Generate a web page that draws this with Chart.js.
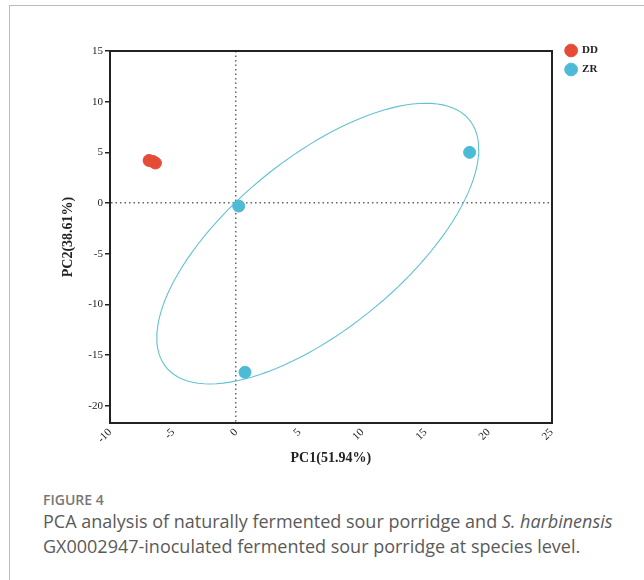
<!DOCTYPE html>
<html>
<head>
<meta charset="utf-8">
<script src="https://cdn.jsdelivr.net/npm/chart.js@4/dist/chart.umd.min.js"></script>
<style>
	body { margin: 0; background: #fff; width: 644px; height: 580px; overflow: hidden; position: relative; }
	#frame { position: absolute; left: 9px; top: 5px; width: 700px; height: 600px; border-left: 1px solid #bbb; border-top: 1px solid #bbb; }
	#chart { position: absolute; left: 0; top: 0; }
	.fig { position: absolute; left: 43px; top: 490px; font-family: "Open Sans", sans-serif; font-size: 14px; line-height: 19px; font-weight: 600; color: #777; }
	.cap { position: absolute; left: 43px; top: 509px; width: 600px; font-family: "Open Sans", sans-serif; font-size: 18px; line-height: 25px; color: #5a5a5a; }
</style>
</head>
<body>
<div id="frame"></div>
<canvas id="chart" width="644" height="480"></canvas>
<div class="fig">FIGURE 4</div>
<div class="cap">PCA analysis of naturally fermented sour porridge and <i>S. harbinensis</i><br>GX0002947-inoculated fermented sour porridge at species level.</div>
<script>
const ddX = [-6.9, -6.6, -6.4];
const ddY = [4.2, 4.1, 3.95];
const zrX = [0.2, 18.5, 0.7];
const zrY = [-0.3, 5.0, -16.7];
const xTicks = [-10, -5, 0, 5, 10, 15, 20, 25];
const yTicks = [-20, -15, -10, -5, 0, 5, 10, 15];
const ELLIPSE_SCALE = 1.224;

const RED = "#E64B35";
const BLUE = "#4DBBD5";

function toPoints(xs, ys) {
	return xs.map((x, i) => ({ x: x, y: ys[i] }));
}

// covariance ellipse around the ZR group
function groupEllipse(xs, ys, k) {
	const n = xs.length;
	const mx = xs.reduce((a, b) => a + b, 0) / n;
	const my = ys.reduce((a, b) => a + b, 0) / n;
	let sxx = 0, syy = 0, sxy = 0;
	for (let i = 0; i < n; i++) {
		sxx += (xs[i] - mx) ** 2;
		syy += (ys[i] - my) ** 2;
		sxy += (xs[i] - mx) * (ys[i] - my);
	}
	sxx /= n - 1; syy /= n - 1; sxy /= n - 1;
	const a = Math.sqrt(sxx);
	const b = sxy / a;
	const c = Math.sqrt(syy - b * b);
	const pts = [];
	for (let i = 0; i <= 120; i++) {
		const t = (i / 120) * Math.PI * 2;
		const u = Math.cos(t), v = Math.sin(t);
		pts.push({ x: mx + k * a * u, y: my + k * (b * u + c * v) });
	}
	return pts;
}

const zeroGrid = (ctx) => (ctx.tick && ctx.tick.value === 0 ? "#666" : "rgba(0,0,0,0)");

const ctx = document.getElementById("chart").getContext("2d");
Chart.defaults.font.family = "'Liberation Serif', 'Times New Roman', serif";
Chart.defaults.color = "#222";

const myChart = new Chart(ctx, {
	type: "scatter",
	data: {
		datasets: [
			{
				label: "DD",
				data: toPoints(ddX, ddY),
				backgroundColor: RED,
				borderColor: RED,
				pointRadius: 6,
				pointHoverRadius: 6,
				order: 1,
			},
			{
				label: "ZR",
				data: toPoints(zrX, zrY),
				backgroundColor: BLUE,
				borderColor: BLUE,
				pointRadius: 6,
				pointHoverRadius: 6,
				order: 1,
			},
			{
				label: "ellipse",
				data: groupEllipse(zrX, zrY, ELLIPSE_SCALE),
				showLine: true,
				borderColor: "#62C2D2",
				borderWidth: 1.1,
				pointRadius: 0,
				fill: false,
				tension: 0,
				order: 2,
			},
		],
	},
	options: {
		responsive: false,
		animation: false,
		layout: {
			padding: { top: 37, left: 52, right: 36, bottom: 0 },
		},
		scales: {
			x: {
				type: "linear",
				position: "bottom",
				min: -10,
				max: 25,
				afterBuildTicks: (s) => { s.ticks = xTicks.map((v) => ({ value: v })); },
				afterFit: (s) => { s.height = 57; },
				ticks: { minRotation: 45, maxRotation: 45, padding: 3, font: { size: 11 } },
				grid: { color: zeroGrid, lineWidth: 1.5, drawTicks: false },
				border: { display: true, width: 2, color: "#222", dash: [1.5, 3] },
				title: {
					display: true,
					text: "PC1(51.94%)",
					font: { size: 14, weight: "bold" },
					padding: { top: 0, bottom: 13 },
				},
			},
			y: {
				type: "linear",
				position: "left",
				min: -21.7,
				max: 15,
				afterBuildTicks: (s) => { s.ticks = yTicks.map((v) => ({ value: v })); },
				afterFit: (s) => { s.width = 58; },
				ticks: { padding: 2, font: { size: 11 } },
				grid: { color: zeroGrid, lineWidth: 1.5, tickColor: "#222", tickWidth: 1.5, tickLength: 5, tickBorderDash: [] },
				border: { display: true, width: 2, color: "#222", dash: [1.5, 3] },
				title: {
					display: true,
					text: "PC2(38.61%)",
					font: { size: 14, weight: "bold" },
					padding: { top: 8, bottom: 0 },
				},
			},
			x2: {
				type: "linear",
				position: "top",
				afterFit: (s) => { s.height = 14; },
				ticks: { display: false },
				grid: { display: false },
				border: { display: true, width: 2, color: "#222" },
			},
			y2: {
				type: "linear",
				position: "right",
				afterFit: (s) => { s.width = 6; },
				ticks: { display: false },
				grid: { display: false },
				border: { display: true, width: 2, color: "#222" },
			},
		},
		plugins: {
			legend: {
				display: true,
				position: "right",
				align: "start",
				labels: {
					usePointStyle: true,
					pointStyle: "circle",
					boxWidth: 11,
					boxHeight: 9,
					padding: 8,
					color: "#222",
					font: { size: 11, weight: "bold" },
					filter: (item) => item.text !== "ellipse",
				},
			},
			tooltip: { enabled: false },
		},
	},
});
</script>
</body>
</html>
